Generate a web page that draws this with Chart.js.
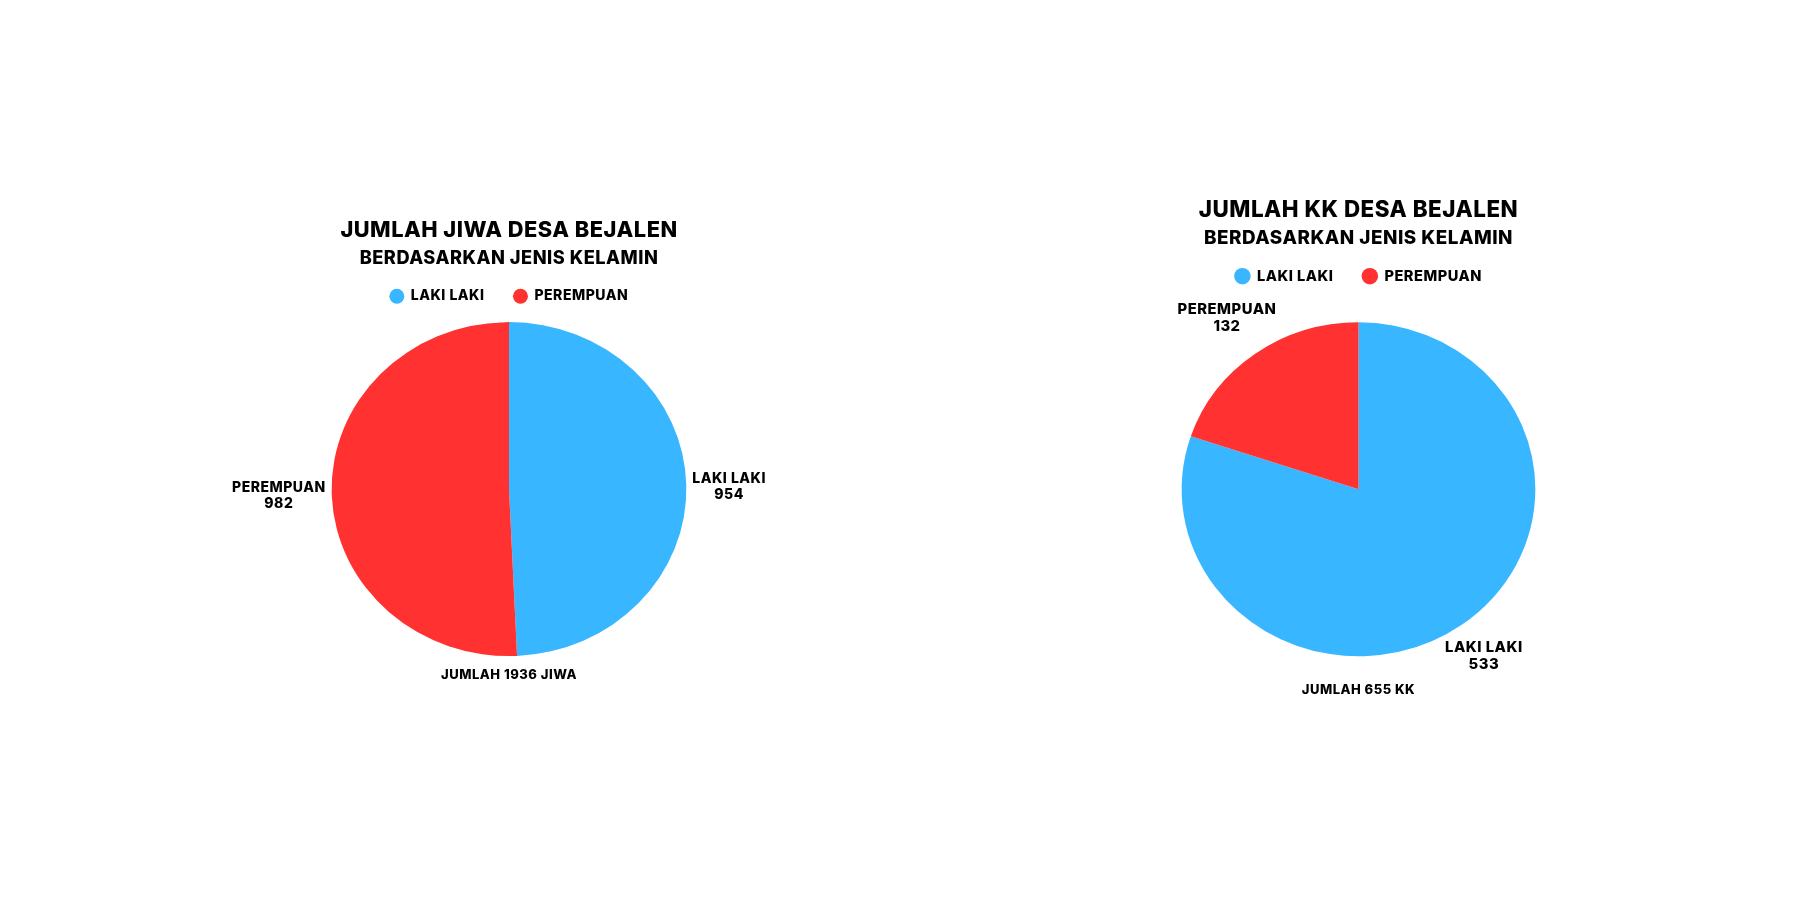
<!DOCTYPE html>
<html><head><meta charset="utf-8">
<script src="https://cdn.jsdelivr.net/npm/chart.js@4.4.1/dist/chart.umd.min.js"></script>
<style>
html,body{margin:0;padding:0;background:#fff;}
body{width:1800px;height:900px;position:relative;overflow:hidden;}
canvas{position:absolute;top:0;}
#c1{left:101px;}
#c2{left:917px;}
</style></head><body>
<canvas id="c1" width="816" height="900"></canvas>
<canvas id="c2" width="883" height="900"></canvas>
<script>
// ---- data ----
const categories = ['LAKI LAKI', 'PEREMPUAN'];
const jiwaValues = [954, 982];
const kkValues = [533, 132];
const sliceColors = ['#38B6FF', '#FF3131'];
const jiwaTitle = 'JUMLAH JIWA DESA BEJALEN';
const kkTitle = 'JUMLAH KK DESA BEJALEN';
const subtitleText = 'BERDASARKAN JENIS KELAMIN';
const jiwaTotalText = 'JUMLAH 1936 JIWA';
const kkTotalText = 'JUMLAH 655 KK';

const FONT = 'Inter';

// letter spacing for all canvas text
const spacingPlugin = {
  id: 'letterSpacing',
  beforeUpdate(chart, args, opts) { chart.ctx.letterSpacing = (opts.px || 0) + 'px'; },
  beforeDraw(chart, args, opts) { chart.ctx.letterSpacing = (opts.px || 0) + 'px'; }
};

// horizontal stretch of the pie
const ellipsePlugin = {
  id: 'ellipse',
  beforeDatasetsDraw(chart, args, opts) {
    const arc = chart.getDatasetMeta(0).data[0];
    const ctx = chart.ctx;
    ctx.save();
    ctx.translate(arc.x, arc.y);
    ctx.scale(opts.scaleX || 1, 1);
    ctx.translate(-arc.x, -arc.y);
  },
  afterDatasetsDraw(chart) { chart.ctx.restore(); }
};

// outside labels + total text
const outLabelPlugin = {
  id: 'outLabels',
  afterDraw(chart, args, opts) {
    const ctx = chart.ctx;
    const meta = chart.getDatasetMeta(0);
    const ds = chart.data.datasets[0];
    const sx = (chart.options.plugins.ellipse && chart.options.plugins.ellipse.scaleX) || 1;
    ctx.save();
    ctx.fillStyle = '#000';
    ctx.textAlign = 'center';
    ctx.textBaseline = 'middle';
    ctx.font = `800 ${opts.size}px ${FONT}`;
    meta.data.forEach((arc, i) => {
      const p = arc.getProps(['x', 'y', 'startAngle', 'endAngle', 'outerRadius'], true);
      const a = (p.startAngle + p.endAngle) / 2;
      const c = Math.cos(a), s = Math.sin(a);
      const lines = [chart.data.labels[i], String(ds.data[i])];
      const w = Math.max(...lines.map(t => ctx.measureText(t).width));
      const h = lines.length * opts.lineHeight;
      const px = p.x + (p.outerRadius * sx + opts.offsetX) * c;
      const py = p.y + (p.outerRadius + opts.offsetY) * s + opts.shiftY;
      const bx = px + c * w / 2, by = py + s * h / 2;
      lines.forEach((t, k) => ctx.fillText(t, bx, by + (k - (lines.length - 1) / 2) * opts.lineHeight));
    });
    const a0 = meta.data[0];
    ctx.font = `800 ${opts.totalSize}px ${FONT}`;
    ctx.fillText(opts.totalText, a0.x, a0.y + a0.outerRadius + opts.totalGap);
    ctx.restore();
  }
};

function makeChart(id, values, cfg) {
  return new Chart(document.getElementById(id), {
    type: 'pie',
    data: {
      labels: categories,
      datasets: [{ data: values, backgroundColor: sliceColors, borderWidth: 0, radius: cfg.radius, clip: false, hoverOffset: 0 }]
    },
    options: {
      responsive: false, animation: false, devicePixelRatio: 1,
      events: [],
      layout: { padding: { top: cfg.padTop, bottom: cfg.padBottom, left: 0, right: 0 } },
      plugins: {
        title: { display: true, text: cfg.title, color: '#000',
          font: { family: FONT, size: cfg.titleSize, weight: '800', lineHeight: 1.2 }, padding: { top: 0, bottom: 0 } },
        subtitle: { display: true, text: subtitleText, color: '#000',
          font: { family: FONT, size: cfg.subSize, weight: '800', lineHeight: 1.2 }, padding: { top: cfg.subTop, bottom: cfg.subBottom } },
        legend: { display: true, position: 'top',
          labels: { usePointStyle: true, pointStyle: 'circle', boxWidth: cfg.legSize, boxHeight: cfg.dot / Math.SQRT2,
            padding: 29, color: '#000', font: { family: FONT, size: cfg.legSize, weight: '800' } } },
        tooltip: { enabled: false },
        letterSpacing: { px: 0.5 },
        ellipse: { scaleX: cfg.scaleX },
        outLabels: { size: cfg.labSize, lineHeight: cfg.labLH, offsetX: cfg.offX, offsetY: cfg.offY, shiftY: cfg.shiftY,
          totalText: cfg.total, totalSize: cfg.totalSize, totalGap: cfg.totalGap }
      }
    },
    plugins: [spacingPlugin, ellipsePlugin, outLabelPlugin]
  });
}

function draw() {
  makeChart('c1', jiwaValues, {
    title: jiwaTitle, titleSize: 21.8, subSize: 18.2, subTop: 3.9, subBottom: -9.1,
    legSize: 14, dot: 15, padTop: 217.4, padBottom: 235, radius: 167, scaleX: 1.062,
    labSize: 14, labLH: 16, offX: 6, offY: 6, shiftY: 2.2, total: jiwaTotalText, totalSize: 13, totalGap: 18.8
  });
  makeChart('c2', kkValues, {
    title: kkTitle, titleSize: 22.4, subSize: 18.85, subTop: 3.1, subBottom: -9.7,
    legSize: 14.6, dot: 16.5, padTop: 197, padBottom: 215, radius: 167, scaleX: 1.059,
    labSize: 14.8, labLH: 17, offX: -1, offY: 24, shiftY: -2.2, total: kkTotalText, totalSize: 13, totalGap: 33.8
  });
}
if (document.fonts && document.fonts.load) {
  document.fonts.load('800 20px Inter').then(draw, draw);
} else { draw(); }
</script>
</body></html>
